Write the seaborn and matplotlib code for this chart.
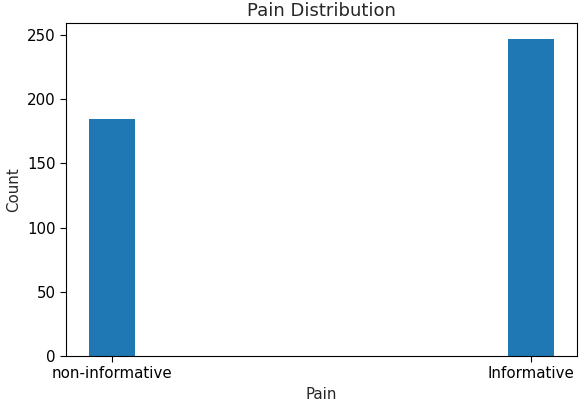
import matplotlib
matplotlib.use("Agg")
import matplotlib.pyplot as plt
import seaborn as sns
import pandas as pd

categories = ["non-informative", "Informative"]
counts = [185, 247]

sns.set_style("ticks")
plt.rcParams['font.family'] = ['DejaVu Sans']

df = pd.DataFrame({"Pain": categories, "Count": counts})

fig = plt.figure(figsize=(5.85, 4.13), dpi=100)
ax = fig.add_axes([66/585, 1-356/413, (577-66)/585, (356-23)/413])
sns.barplot(data=df, x="Pain", y="Count", order=categories, color="#1f77b4",
            saturation=1, width=0.11, ax=ax, edgecolor="none", linewidth=0)
ax.set_xlim(-0.111, 1.111)
ax.set_ylim(0, 259.4)
ax.set_yticks([0, 50, 100, 150, 200, 250])
ax.set_title("Pain Distribution", fontsize=13, pad=5)
ax.set_xlabel("Pain", fontsize=10.8, labelpad=4)
ax.set_ylabel("Count", fontsize=10.8, labelpad=4)
ax.tick_params(labelsize=10.8, length=4, width=0.8, colors="black")
for s in ax.spines.values():
    s.set_visible(True)
    s.set_linewidth(0.8)
    s.set_color("black")
fig.savefig("out.png", dpi=100)
